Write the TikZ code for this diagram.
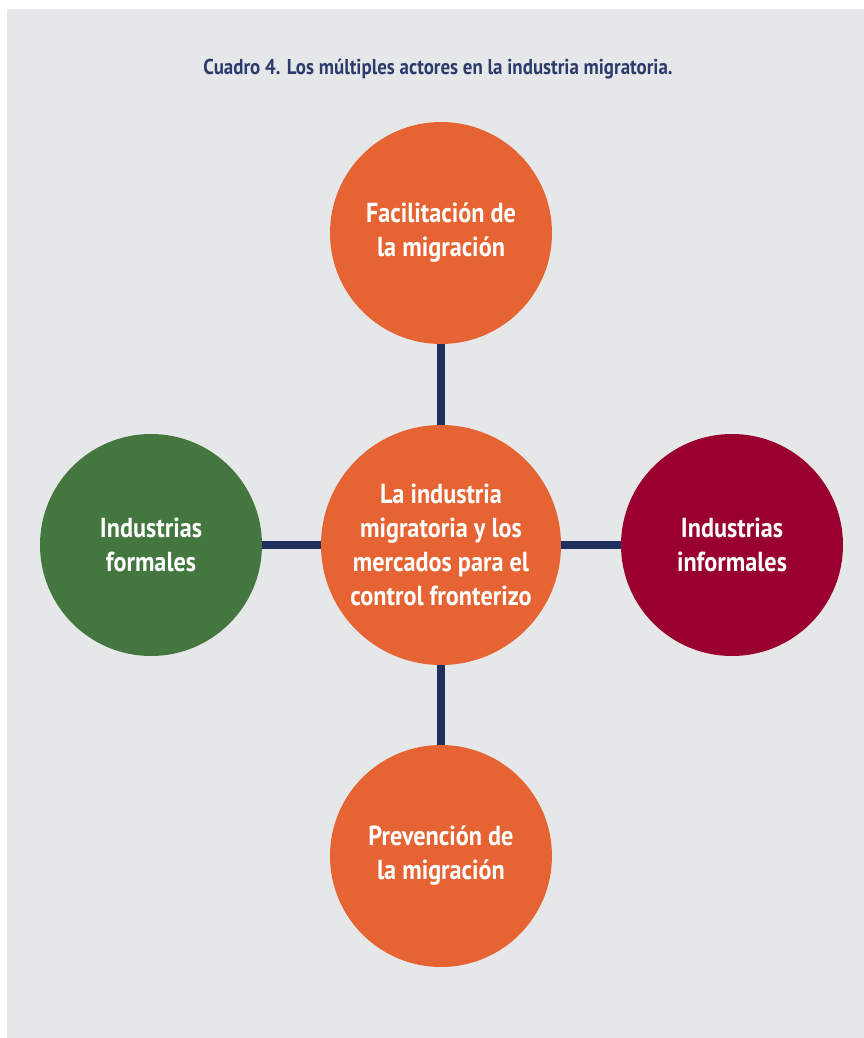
\documentclass[tikz,border=0pt]{standalone}
\usepackage{fontspec}
\setmainfont{PT Sans}[FakeStretch=0.88]
\definecolor{bg}{HTML}{E6E7E8}
\definecolor{navy}{HTML}{1F2F5F}
\definecolor{titlec}{HTML}{2C3A6C}
\definecolor{orng}{HTML}{E66434}
\definecolor{grn}{HTML}{44773F}
\definecolor{wine}{HTML}{990030}
\begin{document}
\begin{tikzpicture}[x=1pt,y=-1pt,
  bubble/.style={circle,inner sep=0pt,minimum size=222pt,text=white,align=center,
    font=\fontsize{27.5}{34}\selectfont\bfseries},
  link/.style={navy,line width=8pt}]
\useasboundingbox (0,0) rectangle (864,1038);
\fill[white] (0,0) rectangle (864,1038);
\fill[bg] (7,9) rectangle (864,1038);
\node[text=titlec,font=\fontsize{21.5}{24}\selectfont\bfseries] (title) at (438,69) {Cuadro 4. Los múltiples actores en la industria migratoria.};
\node[bubble,fill=orng,minimum size=240pt] (c) at (441,545) {La industria\\migratoria y los\\mercados para el\\control fronterizo};
\node[bubble,fill=orng] (t) at (441,233) {Facilitación de\\la migración};
\node[bubble,fill=orng] (b) at (441,856) {Prevención de\\la migración};
\node[bubble,fill=grn] (l) at (151,545) {Industrias\\formales};
\node[bubble,fill=wine] (r) at (732,545) {Industrias\\informales};
\draw[link] (t.south) -- (c.north);
\draw[link] (c.south) -- (b.north);
\draw[link] (l.east) -- (c.west);
\draw[link] (c.east) -- (r.west);
\end{tikzpicture}
\end{document}
